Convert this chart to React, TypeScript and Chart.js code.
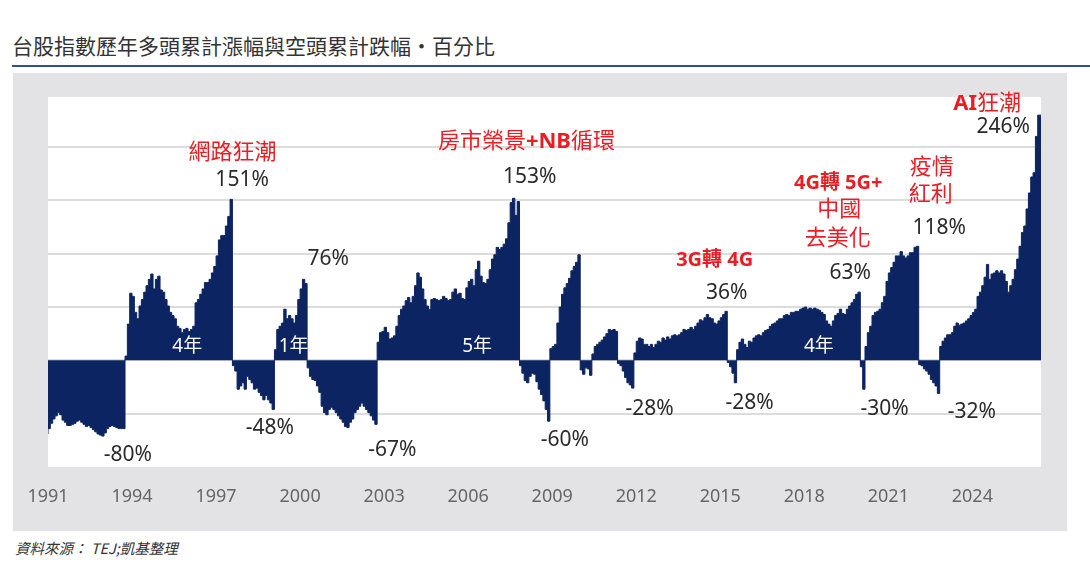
import React, { useEffect, useRef } from "react";
import { Chart, registerables } from "chart.js";

Chart.register(...registerables);

// ---------- data ----------
const START_YEAR = 1991; // first month of the monthly series
const X_MIN = 1991;
const X_MAX = 2026.45;
const Y_MIN = -100;
const Y_MAX = 247;

const xTickYears = [1991, 1994, 1997, 2000, 2003, 2006, 2009, 2012, 2015, 2018, 2021, 2024];
const yGridValues = [-50, 0, 50, 100, 150, 200];

// cumulative bull gain / bear loss, % (one value per month, phases in order)
const bear1991 = [-69, -64, -59, -55, -52, -49, -51, -56, -58, -61, -61, -60, -59, -57, -56, -58, -60, -62, -61, -63, -65, -67, -69, -70, -71, -68, -64, -62, -61, -62, -63, -64, -64, -64];
const bull1993 = [4, 34, 63, 60, 45, 39, 51, 57, 64, 70, 76, 81, 67, 76, 79, 66, 64, 57, 51, 45, 42, 39, 32, 30, 26, 29, 30, 27, 29, 32, 54, 57, 62, 67, 73, 73, 76, 82, 88, 98, 113, 117, 117, 126, 135, 151];
const bear1997 = [-5, -10, -27, -24, -21, -27, -15, -18, -21, -27, -26, -30, -33, -37, -33, -37, -40, -46];
const bull1999 = [10, 29, 32, 35, 48, 39, 42, 39, 35, 42, 57, 67, 76, 72];
const bear2000 = [-7, -15, -18, -19, -24, -30, -43, -49, -51, -46, -44, -46, -49, -52, -55, -58, -62, -63, -58, -55, -49, -46, -43, -40, -43, -46, -49, -52, -56, -60];
const bull2002 = [17, 26, 27, 31, 26, 20, 21, 23, 32, 42, 48, 51, 56, 59, 54, 60, 70, 82, 78, 67, 57, 51, 48, 57, 58, 57, 56, 57, 60, 58, 56, 57, 64, 67, 62, 63, 58, 57, 68, 74, 76, 70, 85, 93, 79, 73, 72, 76, 85, 95, 99, 106, 104, 106, 109, 114, 129, 148, 152, 136, 149];
const bear2007 = [-5, -12, -19, -21, -15, -12, -13, -20, -27, -32, -38, -46, -57];
const bull2009 = [11, 13, 15, 35, 50, 62, 68, 72, 77, 84, 88, 92, 99];
const bear2010 = [-9, -13, -7, -8, -14];
const bull2010 = [6, 13, 15, 17, 19, 22, 25, 29, 28, 29, 27];
const bear2011 = [-3, -5, -10, -16, -21, -23, -26];
const bull2012 = [7, 18, 21, 20, 15, 15, 13, 15, 12, 15, 18, 17, 21, 19, 22, 20, 23, 24, 23, 24, 26, 29, 28, 29, 31, 29, 32, 35, 38, 37, 40, 43, 40, 39, 35, 34, 37, 40, 43, 46];
const bear2015 = [-2, -6, -12, -21];
const bull2015 = [10, 17, 20, 15, 12, 18, 17, 21, 23, 24, 23, 26, 28, 29, 32, 34, 35, 37, 39, 39, 42, 43, 42, 45, 45, 46, 46, 48, 49, 50, 48, 49, 48, 49, 48, 47, 45, 43, 37, 34, 32, 37, 42, 44, 48, 44, 43, 48, 51, 54, 57, 62, 64];
const bear2020 = [-6, -27];
const bull2020 = [13, 26, 32, 42, 45, 46, 48, 54, 60, 74, 82, 87, 92, 98, 98, 102, 98, 96, 98, 101, 101, 106, 107];
const bear2022 = [-4, -5, -8, -10, -13, -18, -21, -24, -31];
const bull2022 = [13, 18, 21, 24, 24, 26, 32, 35, 33, 34, 35, 37, 39, 42, 45, 48, 60, 64, 70, 78, 90, 76, 81, 82, 84, 82, 84, 81, 74, 64, 70, 76, 85, 95, 107, 120, 126, 142, 157, 172, 176, 210, 230];

const phases = [
  bear1991, bull1993, bear1997, bull1999, bear2000, bull2002, bear2007, bull2009, bear2010,
  bull2010, bear2011, bull2012, bear2015, bull2015, bear2020, bull2020, bear2022, bull2022,
];

// ---------- labels drawn on the chart (data coordinates) ----------
const RED = "#ec1c24";
const DARK = "#2a2a2a";
type Part = { t: string; b?: boolean };
type Note = { parts: Part[]; x: number; y: number; color: string; size: number };
const notes: Note[] = [
  { parts: [{ t: "網路狂潮" }], x: 1997.59, y: 194.8, color: RED, size: 22 },
  { parts: [{ t: "151%" }], x: 1997.93, y: 169.2, color: DARK, size: 21 },
  { parts: [{ t: "76%" }], x: 2001.0, y: 94.8, color: DARK, size: 21 },
  { parts: [{ t: "4年" }], x: 1995.97, y: 12.9, color: "#ffffff", size: 19 },
  { parts: [{ t: "1年" }], x: 1999.77, y: 12.9, color: "#ffffff", size: 19 },
  { parts: [{ t: "-80%" }], x: 1993.85, y: -88.7, color: DARK, size: 21 },
  { parts: [{ t: "-48%" }], x: 1998.92, y: -63.7, color: DARK, size: 21 },
  { parts: [{ t: "房市榮景" }, { t: "+NB", b: true }, { t: "循環" }], x: 2008.08, y: 205.2, color: RED, size: 22 },
  { parts: [{ t: "153%" }], x: 2008.2, y: 171.8, color: DARK, size: 21 },
  { parts: [{ t: "5年" }], x: 2006.32, y: 12.9, color: "#ffffff", size: 19 },
  { parts: [{ t: "-67%" }], x: 2003.29, y: -84.1, color: DARK, size: 21 },
  { parts: [{ t: "-60%" }], x: 2009.45, y: -74.7, color: DARK, size: 21 },
  { parts: [{ t: "-28%" }], x: 2012.48, y: -45.9, color: DARK, size: 21 },
  { parts: [{ t: "3G轉 4G", b: true }], x: 2014.8, y: 94.2, color: RED, size: 20 },
  { parts: [{ t: "36%" }], x: 2015.23, y: 62.9, color: DARK, size: 21 },
  { parts: [{ t: "-28%" }], x: 2016.05, y: -39.7, color: DARK, size: 21 },
  { parts: [{ t: "4G轉 5G+", b: true }], x: 2019.21, y: 166.1, color: RED, size: 20 },
  { parts: [{ t: "中國" }], x: 2019.25, y: 141.1, color: RED, size: 22 },
  { parts: [{ t: "去美化" }], x: 2019.19, y: 114.5, color: RED, size: 22 },
  { parts: [{ t: "63%" }], x: 2019.64, y: 82.3, color: DARK, size: 21 },
  { parts: [{ t: "4年" }], x: 2018.52, y: 12.9, color: "#ffffff", size: 19 },
  { parts: [{ t: "-30%" }], x: 2020.87, y: -45.9, color: DARK, size: 21 },
  { parts: [{ t: "疫情" }], x: 2022.55, y: 181.1, color: RED, size: 22 },
  { parts: [{ t: "紅利" }], x: 2022.51, y: 155.8, color: RED, size: 22 },
  { parts: [{ t: "118%" }], x: 2022.82, y: 123.9, color: DARK, size: 21 },
  { parts: [{ t: "-32%" }], x: 2023.98, y: -48.1, color: DARK, size: 21 },
  { parts: [{ t: "AI", b: true }, { t: "狂潮" }], x: 2024.53, y: 240.5, color: RED, size: 22 },
  { parts: [{ t: "246%" }], x: 2025.1, y: 219.2, color: DARK, size: 21 },
];

const FONT = '"Noto Sans", "Noto Sans CJK TC", sans-serif';
const CJK_FONT = '"Noto Sans CJK TC", "Noto Sans", sans-serif';
const NAVY = "#0c2461";

const whiteArea = {
  id: "whiteArea",
  beforeDraw(chart: any) {
    const { ctx, chartArea } = chart;
    ctx.save();
    ctx.fillStyle = "#ffffff";
    ctx.fillRect(chartArea.left, chartArea.top, chartArea.right - chartArea.left, chartArea.bottom - chartArea.top);
    ctx.restore();
  },
};

const noteLabels = {
  id: "noteLabels",
  afterDatasetsDraw(chart: any) {
    const { ctx } = chart;
    const xs = chart.scales.x;
    const ys = chart.scales.y;
    ctx.save();
    ctx.textBaseline = "middle";
    ctx.textAlign = "left";
    for (const n of notes) {
      const px = xs.getPixelForValue(n.x);
      const py = ys.getPixelForValue(n.y);
      const fonts = n.parts.map((p) => `${p.b ? "bold " : ""}${n.size}px ${FONT}`);
      const widths = n.parts.map((p, i) => {
        ctx.font = fonts[i];
        return ctx.measureText(p.t).width;
      });
      const total = widths.reduce((a, b) => a + b, 0);
      let cx = px - total / 2;
      ctx.fillStyle = n.color;
      n.parts.forEach((p, i) => {
        ctx.font = fonts[i];
        ctx.fillText(p.t, cx, py);
        cx += widths[i];
      });
    }
    ctx.restore();
  },
};

export default function App() {
  const canvasRef = useRef<HTMLCanvasElement | null>(null);

  useEffect(() => {
    if (!canvasRef.current) return;
    const values = phases.flat();
    const points = values.map((v, i) => ({ x: START_YEAR + i / 12, y: v }));
    points.push({ x: START_YEAR + values.length / 12, y: values[values.length - 1] });

    const chart = new Chart(canvasRef.current, {
      type: "line",
      data: {
        datasets: [
          {
            data: points,
            stepped: "after",
            fill: "origin",
            backgroundColor: NAVY,
            borderColor: NAVY,
            borderWidth: 1,
            pointRadius: 0,
          } as any,
        ],
      },
      options: {
        responsive: false,
        animation: false,
        layout: { padding: { left: 35, right: 26, top: 24, bottom: 0 } },
        plugins: { legend: { display: false }, tooltip: { enabled: false } },
        scales: {
          x: {
            type: "linear",
            min: X_MIN,
            max: X_MAX,
            afterBuildTicks: (s: any) => {
              s.ticks = xTickYears.map((v) => ({ value: v }));
            },
            afterFit: (s: any) => {
              s.height = 64;
            },
            grid: { display: false },
            border: { display: false },
            ticks: {
              autoSkip: false,
              maxRotation: 0,
              padding: 11,
              color: "#666666",
              font: { family: FONT, size: 18 },
              callback: (v: any) => String(v),
            },
          },
          y: {
            min: Y_MIN,
            max: Y_MAX,
            afterBuildTicks: (s: any) => {
              s.ticks = yGridValues.map((v) => ({ value: v }));
            },
            afterFit: (s: any) => {
              s.width = 0;
            },
            grid: { color: "#dcdcdc", lineWidth: 2, drawTicks: false },
            border: { display: false },
            ticks: { display: false },
          },
        },
      },
      plugins: [whiteArea, noteLabels],
    });
    return () => chart.destroy();
  }, []);

  return (
    <div style={{ position: "absolute", left: 0, top: 0, width: 1090, height: 569, background: "#ffffff", overflow: "hidden" }}>
      <div
        style={{
          position: "absolute",
          left: 12,
          top: 33,
          fontFamily: CJK_FONT,
          fontSize: 21,
          lineHeight: "25px",
          color: "#333333",
          whiteSpace: "nowrap",
        }}
      >
        台股指數歷年多頭累計漲幅與空頭累計跌幅‧百分比
      </div>
      <div style={{ position: "absolute", left: 12, top: 65, width: 1078, height: 2, background: "#2d4f8e" }} />
      <div style={{ position: "absolute", left: 13, top: 73, width: 1054, height: 458, background: "#e3e3e5" }}>
        <canvas ref={canvasRef} width={1054} height={458} style={{ display: "block", width: 1054, height: 458 }} />
      </div>
      <div
        style={{
          position: "absolute",
          left: 15,
          top: 538,
          fontFamily: CJK_FONT,
          fontSize: 14.5,
          fontStyle: "italic",
          lineHeight: "20px",
          color: "#333333",
          whiteSpace: "nowrap",
        }}
      >
        資料來源： TEJ;凱基整理
      </div>
    </div>
  );
}
